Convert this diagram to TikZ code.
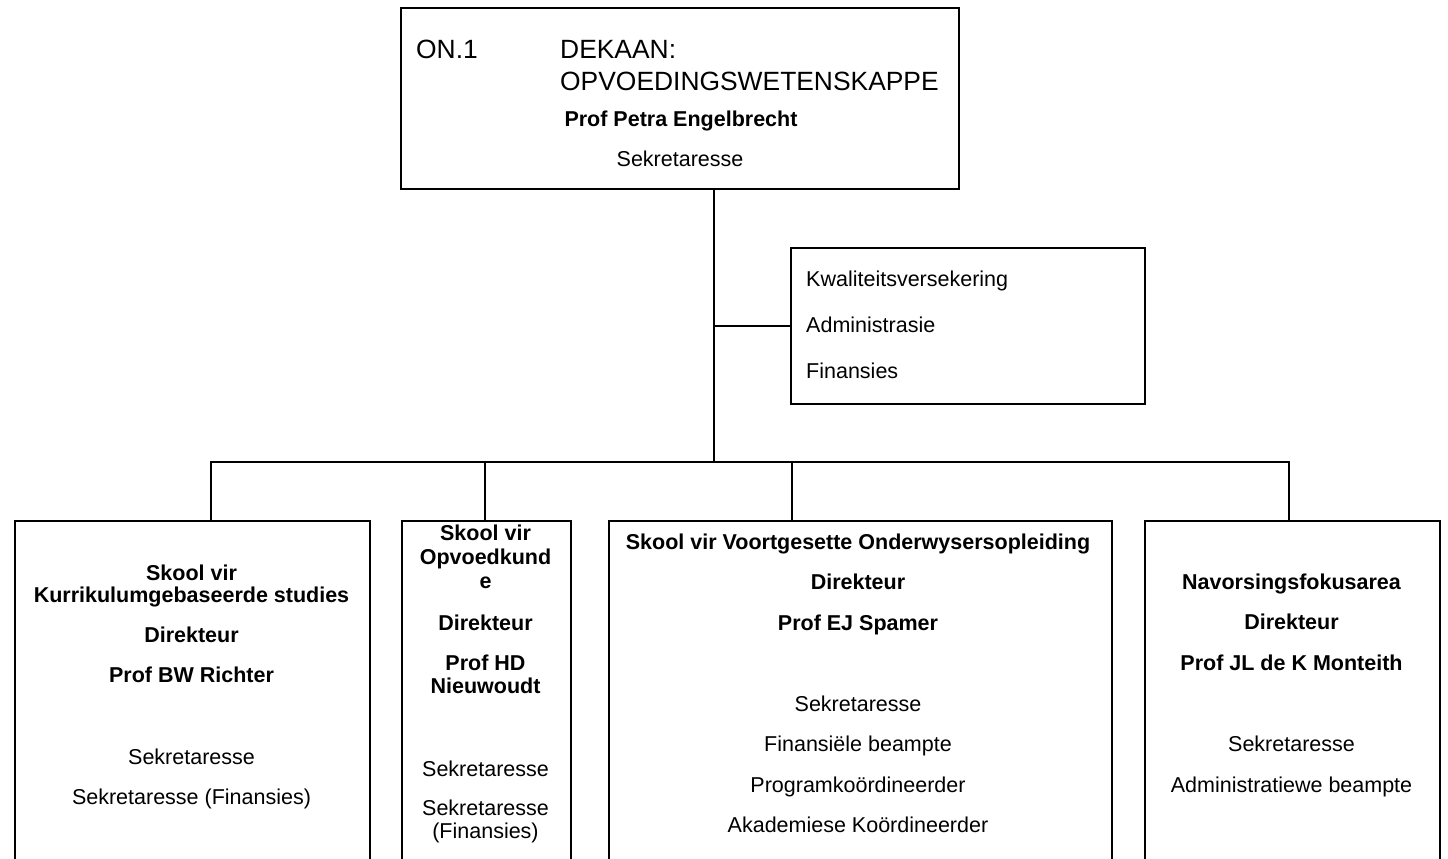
\documentclass[tikz,border=0pt]{standalone}
\usepackage{fontspec}
\setmainfont{Liberation Sans}
\begin{document}
\begin{tikzpicture}[x=1pt,y=-1pt]
\tikzset{
  box/.style={draw, line width=2pt, inner sep=0pt, anchor=north west},
  conn/.style={line width=2pt},
  txt/.style={inner sep=0pt, anchor=base, font=\fontsize{21.5}{24}\selectfont},
  txtb/.style={inner sep=0pt, anchor=base, font=\fontsize{21.5}{24}\selectfont\bfseries},
  txtl/.style={inner sep=0pt, anchor=base west, font=\fontsize{21.5}{24}\selectfont},
  ttl/.style={inner sep=0pt, anchor=base west, font=\fontsize{26.4}{30}\selectfont},
}
\useasboundingbox (0,0) rectangle (1448,859);
\clip (0,0) rectangle (1448,859);
\fill[white] (0,0) rectangle (1448,859);

% boxes
\node[box, minimum width=558pt, minimum height=181pt] (dean) at (400,7) {};
\node[box, minimum width=354pt, minimum height=156pt] (side) at (790,247) {};
\node[box, minimum width=355pt, minimum height=400pt] (b1) at (14,520) {};
\node[box, minimum width=169pt, minimum height=400pt] (b2) at (401,520) {};
\node[box, minimum width=503pt, minimum height=400pt] (b3) at (608,520) {};
\node[box, minimum width=295pt, minimum height=400pt] (b4) at (1144,520) {};

% connectors
\coordinate (trunktop) at (714,188);
\coordinate (busmid) at (714,462);
\coordinate (busL) at (211,462);
\coordinate (busR) at (1289,462);
\coordinate (drop2) at (485,462);
\coordinate (drop3) at (792,462);
\draw[conn] (trunktop) -- (busmid);
\draw[conn] (side.west -| trunktop) -- (side.west);
\draw[conn] (busL |- b1.north) -- (busL) -- (busR) -- (busR |- b4.north);
\draw[conn] (drop2) -- (drop2 |- b2.north);
\draw[conn] (drop3) -- (drop3 |- b3.north);

% dean box text
\node[ttl] (on1) at (416,59) {ON.1};
\node[ttl] (dek) at (560,59) {DEKAAN:};
\node[ttl] (opv) at (560,91) {OPVOEDINGSWETENSKAPPE};
\node[txtb] (petra) at (681,126) {Prof Petra Engelbrecht};
\node[txt] (dsek) at (680,166) {Sekretaresse};

% side box text
\node[txtl] (kw) at (806,286) {Kwaliteitsversekering};
\node[txtl] (adm) at (806,332) {Administrasie};
\node[txtl] (fin) at (806,378) {Finansies};

% box 1
\node[txtb] (b1a) at (191.5,580) {Skool vir};
\node[txtb] (b1b) at (191.5,602) {Kurrikulumgebaseerde studies};
\node[txtb] (b1c) at (191.5,642) {Direkteur};
\node[txtb] (b1d) at (191.5,682) {Prof BW Richter};
\node[txt] (b1e) at (191.5,764) {Sekretaresse};
\node[txt] (b1f) at (191.5,804) {Sekretaresse (Finansies)};

% box 2
\node[txtb] (b2a) at (485.5,540) {Skool vir};
\node[txtb] (b2b) at (485.5,564) {Opvoedkund};
\node[txtb] (b2c) at (485.5,588) {e};
\node[txtb] (b2d) at (485.5,630) {Direkteur};
\node[txtb] (b2e) at (485.5,670) {Prof HD};
\node[txtb] (b2f) at (485.5,693) {Nieuwoudt};
\node[txt] (b2g) at (485.5,776) {Sekretaresse};
\node[txt] (b2h) at (485.5,815) {Sekretaresse};
\node[txt] (b2i) at (485.5,838) {(Finansies)};

% box 3
\node[txtb] (b3a) at (858,549) {Skool vir Voortgesette Onderwysersopleiding};
\node[txtb] (b3b) at (858,589) {Direkteur};
\node[txtb] (b3c) at (858,630) {Prof EJ Spamer};
\node[txt] (b3d) at (858,711) {Sekretaresse};
\node[txt] (b3e) at (858,751) {Finansiële beampte};
\node[txt] (b3f) at (858,792) {Programkoördineerder};
\node[txt] (b3g) at (858,832) {Akademiese Koördineerder};

% box 4
\node[txtb] (b4a) at (1291.5,589) {Navorsingsfokusarea};
\node[txtb] (b4b) at (1291.5,629) {Direkteur};
\node[txtb] (b4c) at (1291.5,670) {Prof JL de K Monteith};
\node[txt] (b4d) at (1291.5,751) {Sekretaresse};
\node[txt] (b4e) at (1291.5,792) {Administratiewe beampte};
\end{tikzpicture}
\end{document}
